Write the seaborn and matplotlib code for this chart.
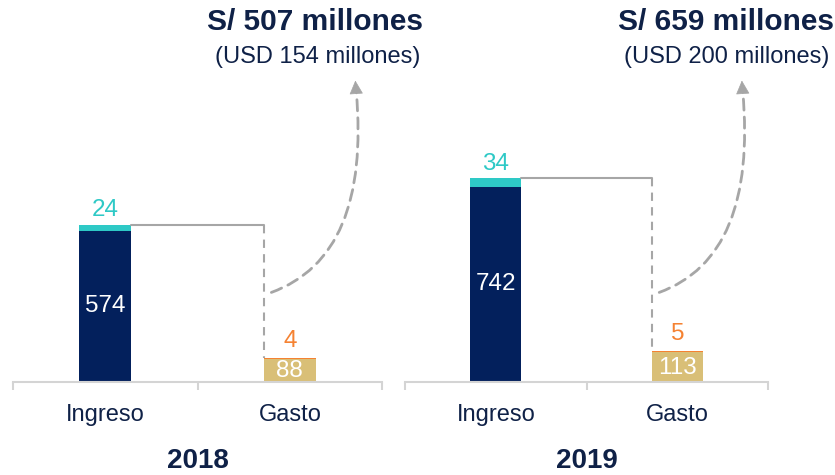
import matplotlib
matplotlib.use("Agg")
import matplotlib.pyplot as plt
import seaborn as sns
import pandas as pd
from matplotlib.patches import FancyArrowPatch

# data
years = ["2018", "2019"]
categories = ["Ingreso", "Gasto"]
base_vals = {"2018": [574, 88], "2019": [742, 113]}
top_vals = {"2018": [24, 4], "2019": [34, 5]}
soles_total = [507, 659]
usd_total = [154, 200]

navy = "#03205c"
teal = "#2ec9c6"
gold = "#d9bf77"
orange = "#f58232"
text_navy = "#0f2147"
gray = "#a6a6a6"

sns.set_theme(style="white")
plt.rcParams["font.family"] = ["Liberation Sans", "DejaVu Sans"]

fig = plt.figure(figsize=(8.35, 4.75), dpi=100)
axes = [fig.add_axes([0.0156, 0.196, 0.442, 0.554]),
        fig.add_axes([0.485, 0.196, 0.435, 0.554])]

bw = 0.28
for i, (ax, yr) in enumerate(zip(axes, years)):
    base = base_vals[yr]
    top = top_vals[yr]
    total = [b + t for b, t in zip(base, top)]
    df = pd.DataFrame({"cat": categories, "base": base, "total": total})

    # stacked look: totals behind, base on top
    sns.barplot(data=df, x="cat", y="total", hue="cat", palette=[teal, orange],
                width=bw, legend=False, ax=ax, saturation=1, linewidth=0)
    sns.barplot(data=df, x="cat", y="base", hue="cat", palette=[navy, gold],
                width=bw, legend=False, ax=ax, saturation=1, linewidth=0)

    ax.set_xlim(-0.5, 1.5)
    ax.set_ylim(0, 1000)
    ax.set_xlabel("")
    ax.set_ylabel("")
    ax.set_yticks([])
    for s in ["top", "right", "left"]:
        ax.spines[s].set_visible(False)
    ax.spines["bottom"].set_color("#d4d4d4")
    ax.spines["bottom"].set_linewidth(1.5)
    ax.set_xticks([0, 1])
    ax.set_xticklabels(categories, fontsize=17, color=text_navy)
    ax.set_xticks([-0.5, 0.5, 1.5], minor=True)
    ax.tick_params(axis="x", which="major", length=0, pad=16)
    ax.tick_params(axis="x", which="minor", length=6, width=1.5, color="#d4d4d4", bottom=True)

    # value labels
    ax.text(0, base[0] / 2, str(base[0]), ha="center", va="center", color="white", fontsize=17.5)
    ax.text(0, total[0] + 12, str(top[0]), ha="center", va="bottom", color=teal, fontsize=17.5)
    ax.text(1, base[1] / 2 - 4, str(base[1]), ha="center", va="center", color="white", fontsize=17.5)
    ax.text(1, total[1] + 22, str(top[1]), ha="center", va="bottom", color=orange, fontsize=17.5)

    # connector: solid across, dashed down
    x0 = bw / 2
    x1 = 1 - bw / 2
    ax.plot([x0, x1], [total[0], total[0]], color=gray, lw=1.5, clip_on=False)
    ax.plot([x1, x1], [total[0], total[1]], color=gray, lw=1.5, ls=(0, (4, 3)), clip_on=False)

    # curved dashed arrow
    start = (0.9, 340)
    end = (1.36, 1105)
    arc = FancyArrowPatch(start, end, connectionstyle="angle3,angleA=20,angleB=95",
                          arrowstyle="-", color=gray, lw=2, ls=(0, (4, 2.5)),
                          clip_on=False, shrinkA=0, shrinkB=0)
    ax.add_patch(arc)
    ax.annotate("", xy=(1.355, 1145), xytext=(1.36, 1095),
                arrowprops=dict(arrowstyle="-|>", color=gray, lw=0.5,
                                mutation_scale=22, shrinkA=0, shrinkB=0),
                annotation_clip=False)

    # year label
    ax.annotate(yr, xy=(0.5, 0), xycoords="axes fraction", xytext=(0, -57),
                textcoords="offset points", ha="center", va="center",
                fontsize=20, fontweight="bold", color=text_navy)

# headline totals
fig.text(315 / 835, 1 - 22 / 475, f"S/ {soles_total[0]} millones", ha="center", va="center",
         fontsize=21.5, fontweight="bold", color=text_navy)
fig.text(318 / 835, 1 - 57 / 475, f"(USD {usd_total[0]} millones)", ha="center", va="center",
         fontsize=17, color=text_navy)
fig.text(726 / 835, 1 - 22 / 475, f"S/ {soles_total[1]} millones", ha="center", va="center",
         fontsize=21.5, fontweight="bold", color=text_navy)
fig.text(727 / 835, 1 - 57 / 475, f"(USD {usd_total[1]} millones)", ha="center", va="center",
         fontsize=17, color=text_navy)

fig.savefig("out.png", dpi=100)
